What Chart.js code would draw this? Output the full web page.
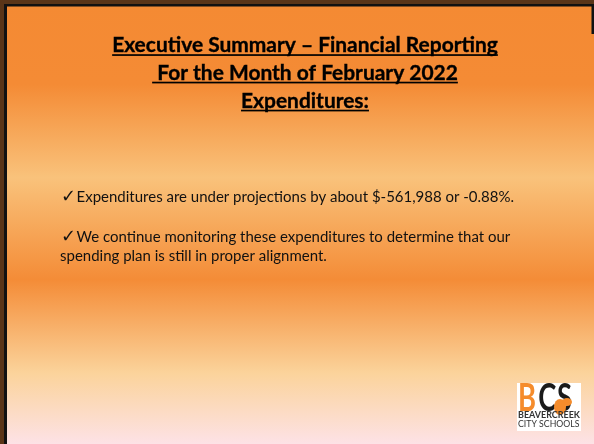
<!DOCTYPE html>
<html>
<head>
<meta charset="utf-8">
<script src="https://cdn.jsdelivr.net/npm/chart.js@4.4.1/dist/chart.umd.min.js"></script>
<style>
  html, body { margin: 0; padding: 0; background: #F48A33; }
  #wrap { width: 594px; height: 444px; }
</style>
</head>
<body>
<div id="wrap"><canvas id="c" width="594" height="444"></canvas></div>
<script>
// Slide content
const titleLines = [
  "Executive Summary \u2013 Financial Reporting",
  " For the Month of February 2022",
  "Expenditures:"
];
const bulletLines = [
  { check: true,  text: "Expenditures are under projections by about $-561,988 or -0.88%." },
  { check: true,  text: "We continue monitoring these expenditures to determine that our" },
  { check: false, text: "spending plan is still in proper alignment." }
];
const logoLines = ["BEAVERCREEK", "CITY SCHOOLS"];

const FAMILY = "Lato, 'DejaVu Sans', sans-serif";

function fitSize(ctx, text, weight, targetW) {
  ctx.font = weight + " 20px " + FAMILY;
  const w = ctx.measureText(text).width;
  return 20 * targetW / w;
}

const slidePlugin = {
  id: 'slide',
  beforeDraw(chart) {
    const ctx = chart.ctx;
    const W = chart.width, H = chart.height;
    ctx.save();
    // background gradient
    const g = ctx.createLinearGradient(0, 0, 0, H);
    g.addColorStop(0.00, '#F48A33');
    g.addColorStop(0.19, '#F48B35');
    g.addColorStop(0.40, '#F9C27B');
    g.addColorStop(0.63, '#F48C37');
    g.addColorStop(0.84, '#FBD39B');
    g.addColorStop(1.00, '#FDE2E6');
    ctx.fillStyle = g;
    ctx.fillRect(0, 0, W, H);

    // frame
    ctx.fillStyle = '#5a3518';
    ctx.fillRect(0, 0, W, 4);
    ctx.fillRect(0, 0, 4, H);
    ctx.fillStyle = '#111';
    ctx.fillRect(4, 4, W - 4, 2.5);
    ctx.fillRect(4, 4, 3, H - 4);
    ctx.fillRect(W - 2.5, 4, 2.5, 30);

    // Title
    const cx = 305;
    const tSize = fitSize(ctx, titleLines[0], 'bold', 386);
    ctx.font = 'bold ' + tSize.toFixed(2) + 'px ' + FAMILY;
    ctx.fillStyle = '#000';
    ctx.strokeStyle = '#000';
    ctx.lineWidth = 0.35;
    ctx.textBaseline = 'alphabetic';
    const tBase = [52, 79.5, 107.5];
    titleLines.forEach((t, i) => {
      const w = ctx.measureText(t).width;
      const x0 = cx - w / 2;
      ctx.fillText(t, x0, tBase[i]);
      ctx.strokeText(t, x0, tBase[i]);
      ctx.fillRect(x0, tBase[i] + 2.2, w, 1.7);
    });

    // Bullets
    ctx.fillStyle = '#111';
    const bSize = fitSize(ctx, "\u2713\u2009" + bulletLines[0].text, 'normal', 452);
    const bBase = [201.5, 241.5, 261];
    bulletLines.forEach((b, i) => {
      let x = 61;
      ctx.font = 'normal ' + bSize.toFixed(2) + 'px ' + FAMILY;
      if (b.check) {
        ctx.font = 'normal ' + (bSize * 1.2).toFixed(2) + 'px "DejaVu Sans"';
        ctx.fillText("\u2713", x, bBase[i]);
        x += ctx.measureText("\u2713").width + 0.5;
        ctx.font = 'normal ' + bSize.toFixed(2) + 'px ' + FAMILY;
      } else {
        x = 60;
      }
      ctx.fillText(b.text, x, bBase[i]);
    });

    // Logo
    const lx = 517, ly = 383, lw = 64, lh = 48;
    ctx.fillStyle = '#ffffff';
    ctx.fillRect(lx, ly, lw, lh);
    ctx.font = 'bold 38px ' + FAMILY;
    ctx.save();
    ctx.translate(lx + 1, ly + 28);
    ctx.scale(0.72, 1);
    ctx.fillStyle = '#F58C2C';
    ctx.fillText("B", 0, 0);
    ctx.fillStyle = '#1a1a1a';
    ctx.fillText("C", 28, 0);
    ctx.fillText("S", 54, 0);
    ctx.restore();
    // beaver
    ctx.fillStyle = '#F58C2C';
    ctx.beginPath();
    ctx.ellipse(560, 407, 6, 8, 0, 0, Math.PI * 2);
    ctx.fill();
    ctx.beginPath();
    ctx.ellipse(567, 402, 5, 4, 0, 0, Math.PI * 2);
    ctx.fill();
    ctx.fillStyle = '#333';
    ctx.textBaseline = 'alphabetic';
    logoLines.forEach((t, i) => {
      ctx.save();
      ctx.font = 'bold 9px ' + FAMILY;
      const w = ctx.measureText(t).width;
      ctx.translate(lx + 1, ly + 35 + i * 8.5);
      ctx.scale(62 / w, 1);
      ctx.font = (i === 0 ? 'bold' : 'normal') + ' 9px ' + FAMILY;
      ctx.fillText(t, 0, 0);
      ctx.restore();
    });
    ctx.restore();
  }
};

new Chart(document.getElementById('c'), {
  type: 'bar',
  data: { labels: [], datasets: [] },
  options: {
    responsive: false,
    animation: false,
    events: [],
    plugins: { legend: { display: false }, tooltip: { enabled: false }, title: { display: false } },
    scales: { x: { display: false }, y: { display: false } }
  },
  plugins: [slidePlugin]
});
</script>
</body>
</html>
